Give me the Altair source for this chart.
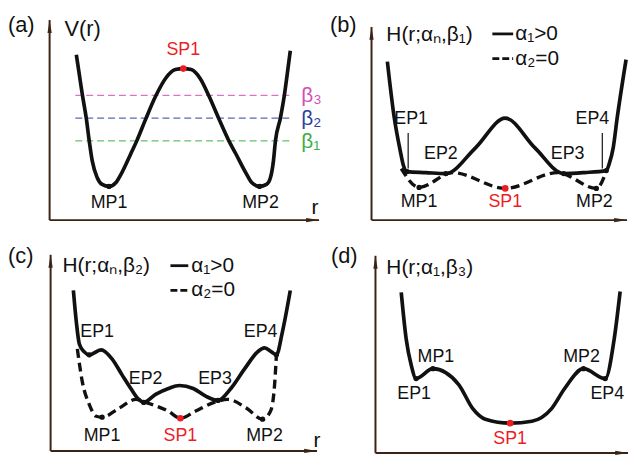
import altair as alt
import pandas as pd

# ------------------------------------------------------------------
# Schematic data (arbitrary units; axis origin of every panel at r=0, E=0)
# ------------------------------------------------------------------
# (a) double-well potential V(r)
a_r = [2.7, 3.0, 3.3, 3.7, 4.0, 4.3, 4.8, 5.3, 6.0, 6.7, 7.3, 8.2, 8.8, 9.7, 10.7, 11.7, 12.7, 13.5,
       14.3, 15.2, 16.1, 17.1, 18.1, 18.8, 19.8, 20.4, 21.2, 21.9, 22.3, 22.6, 22.8, 23.3, 23.7, 24.0, 24.3]
a_e = [16.7, 14.7, 12.7, 10.3, 8.0, 6.0, 4.3, 3.6, 3.4, 3.8, 4.8, 6.7, 8.0, 10.2, 12.5, 14.3, 15.2, 15.3,
       15.2, 14.3, 12.5, 10.2, 8.0, 6.7, 4.8, 3.8, 3.4, 3.6, 4.3, 6.0, 8.0, 10.3, 12.6, 14.8, 17.1]
beta_names = ["β₁", "β₂", "β₃"]
beta_levels = [8.0, 10.3, 12.6]
beta_colors = ["#3cb043", "#2b3f9e", "#d050b8"]
beta_span = [2.6, 24.2]
a_dot_r = [6.0, 21.2]
a_dot_e = [3.4, 3.4]
a_sp_r = [13.5]
a_sp_e = [15.3]
a_lab_text = ["MP1", "MP2"]
a_lab_r = [6.0, 21.3]
a_lab_e = [1.7, 1.7]

# (b) H(r; alpha_n, beta_1)
b_solid_r = [1.6, 2.3, 2.9, 3.2, 3.6, 5.5, 7.5, 10.5, 13.5, 16.5, 19.4, 21.5, 23.7, 24.0, 24.4, 24.8, 25.7]
b_solid_e = [16.0, 10.3, 7.0, 5.6, 4.9, 4.8, 4.7, 7.3, 10.3, 7.3, 4.7, 4.8, 5.0, 5.7, 7.3, 10.3, 16.2]
b_dash_r = [3.0, 4.8, 8.2, 13.5, 18.8, 22.7, 23.8]
b_dash_e = [5.2, 3.3, 4.8, 3.2, 4.8, 3.2, 5.2]
b_dot_r = [3.6, 7.5, 19.4, 23.7, 4.8, 22.7]
b_dot_e = [4.9, 4.7, 4.7, 5.0, 3.3, 3.2]
b_sp_r = [13.5]
b_sp_e = [3.2]
b_lab_text = ["EP1", "EP2", "EP3", "EP4", "MP1", "MP2"]
b_lab_r = [4.0, 7.0, 19.8, 22.3, 4.8, 22.5]
b_lab_e = [10.2, 6.7, 6.7, 10.2, 1.8, 1.8]
b_tick_r = [3.7, 23.3]
b_tick_e = [8.8, 8.8]
b_tick_e2 = [5.2, 5.2]

# (c) H(r; alpha_n, beta_2)
c_solid_r = [2.3, 2.6, 2.9, 3.4, 3.9, 5.1, 6.2, 7.2, 8.1, 8.9, 9.4, 10.6, 11.9, 13.0,
             14.4, 15.7, 16.9, 18.2, 19.6, 20.9, 21.6, 22.3, 22.8, 23.4, 24.2]
c_solid_e = [16.2, 13.0, 10.8, 10.0, 9.7, 10.2, 9.3, 7.7, 6.3, 5.2, 4.9, 5.7, 6.3, 6.6,
             6.3, 5.5, 5.1, 6.3, 8.3, 10.0, 10.4, 10.0, 9.7, 12.0, 16.2]
c_dash_r = [2.7, 3.2, 3.9, 4.6, 5.2, 6.9, 8.6, 9.9, 11.9, 13.1, 14.6, 16.5, 17.9, 19.8, 21.4, 22.2, 22.6, 22.8]
c_dash_e = [10.3, 7.0, 4.7, 3.5, 3.4, 4.3, 5.2, 4.8, 4.0, 3.3, 4.0, 4.9, 5.2, 4.3, 3.2, 4.0, 6.5, 9.7]
c_dot_r = [3.9, 9.4, 16.9, 22.8, 5.2, 21.4]
c_dot_e = [9.7, 4.9, 5.1, 9.7, 3.4, 3.2]
c_sp_r = [13.1]
c_sp_e = [3.3]
c_lab_text = ["EP1", "EP2", "EP3", "EP4", "MP1", "MP2"]
c_lab_r = [4.7, 9.6, 16.6, 21.2, 5.2, 21.6]
c_lab_e = [12.0, 7.3, 7.3, 12.0, 1.5, 1.5]

# (d) H(r; alpha_1, beta_3)
d_solid_r = [2.6, 3.1, 3.6, 4.1, 5.8, 8.4, 9.8, 11.1, 13.6, 15.8, 17.8, 19.1, 21.0, 23.2, 24.1, 24.7]
d_solid_e = [16.2, 11.5, 8.9, 7.5, 8.5, 6.9, 4.5, 3.4, 3.0, 3.2, 4.5, 6.5, 8.5, 7.5, 11.5, 16.3]
d_dot_r = [4.1, 5.8, 21.0, 23.2]
d_dot_e = [7.5, 8.5, 8.5, 7.5]
d_sp_r = [13.6]
d_sp_e = [3.0]
d_lab_text = ["MP1", "EP1", "MP2", "EP4"]
d_lab_r = [6.1, 3.9, 20.8, 23.4]
d_lab_e = [9.7, 5.9, 9.7, 5.9]

legend_text = ["α₁>0", "α₂=0"]

# ------------------------------------------------------------------
# Styling / layout
# ------------------------------------------------------------------
U = 10.0            # pixels per schematic unit
AX = "#3d2314"      # axis colour (dark brown)
INK = "#111111"
RED = "#ee1c24"
FONT = "Liberation Sans"
UP = "M0,-1L0.33,1L-0.33,1Z"
RIGHT = "M1,0L-1,0.33L-1,-0.33Z"
LAB = 18            # point-label font size
TIT = 21            # panel title font size
LET = 22            # panel letter font size


def df(**cols):
    return pd.DataFrame(cols)


def build_panel(x0, x1, y0, y1, ox, oy, xtip, ytip, parts):
    xs = alt.Scale(domain=[(x0 - ox) / U, (x1 - ox) / U], nice=False, zero=False)
    ys = alt.Scale(domain=[(oy - y1) / U, (oy - y0) / U], nice=False, zero=False)

    def X(f="r"):
        return alt.X(f"{f}:Q", scale=xs, axis=None)

    def Y(f="e"):
        return alt.Y(f"{f}:Q", scale=ys, axis=None)

    layers = []
    ax = df(r=[0.0], r2=[xtip], e=[0.0], e2=[ytip])
    layers.append(alt.Chart(ax).mark_rule(color=AX, strokeWidth=2).encode(x=X(), y=Y(), y2="e2:Q"))
    layers.append(alt.Chart(ax).mark_rule(color=AX, strokeWidth=2).encode(x=X(), x2="r2:Q", y=Y()))
    layers.append(alt.Chart(df(r=[0.0], e=[ytip - 0.65])).mark_point(
        shape=UP, filled=True, color=AX, opacity=1, size=169).encode(x=X(), y=Y()))
    layers.append(alt.Chart(df(r=[xtip - 0.65], e=[0.0])).mark_point(
        shape=RIGHT, filled=True, color=AX, opacity=1, size=169).encode(x=X(), y=Y()))

    for kind, data, opts in parts:
        if kind == "solid":
            layers.append(alt.Chart(data).mark_line(
                interpolate="monotone", color=INK, strokeWidth=3.7).encode(x=X(), y=Y()))
        elif kind == "dash":
            layers.append(alt.Chart(data).mark_line(
                interpolate="monotone", color=INK, strokeWidth=3.4, strokeDash=[9, 5]).encode(x=X(), y=Y()))
        elif kind == "hline":
            layers.append(alt.Chart(data).mark_rule(
                strokeWidth=1, strokeDash=[7, 4]).encode(
                x=X(), x2="r2:Q", y=Y(), color=alt.Color("c:N", scale=None)))
        elif kind == "seg":
            layers.append(alt.Chart(data).mark_rule(**opts).encode(x=X(), x2="r2:Q", y=Y()))
        elif kind == "vseg":
            layers.append(alt.Chart(data).mark_rule(color=INK, strokeWidth=1.2).encode(
                x=X(), y=Y(), y2="e2:Q"))
        elif kind == "dot":
            layers.append(alt.Chart(data).mark_circle(opacity=1, **opts).encode(x=X(), y=Y()))
        elif kind == "text":
            base = dict(font=FONT, baseline="middle")
            base.update(opts)
            enc = dict(x=X(), y=Y(), text="t:N")
            if "c" in data.columns:
                enc["color"] = alt.Color("c:N", scale=None)
            layers.append(alt.Chart(data).mark_text(**base).encode(**enc))
    return alt.layer(*layers).properties(width=x1 - x0, height=y1 - y0)


def legend_parts(r_line, r_text, e_rows):
    return [
        ("seg", df(r=[r_line[0]], r2=[r_line[1]], e=[e_rows[0]]), dict(color=INK, strokeWidth=2.8)),
        ("seg", df(r=[r_line[0]], r2=[r_line[1]], e=[e_rows[1]]),
         dict(color=INK, strokeWidth=2.8, strokeDash=[7, 3])),
        ("text", df(t=legend_text, r=[r_text, r_text], e=e_rows), dict(align="left", fontSize=TIT, color=INK)),
    ]


# ---------------- panel (a)
parts_a = [
    ("hline", df(r=[beta_span[0]] * 3, r2=[beta_span[1]] * 3, e=beta_levels, c=beta_colors), {}),
    ("solid", df(r=a_r, e=a_e), {}),
    ("dot", df(r=a_dot_r, e=a_dot_e), dict(size=28, color=INK)),
    ("dot", df(r=a_sp_r, e=a_sp_e), dict(size=45, color=RED)),
    ("text", df(t=beta_names, r=[25.4] * 3, e=[b - 0.1 for b in beta_levels], c=beta_colors),
     dict(align="left", fontSize=21)),
    ("text", df(t=a_lab_text, r=a_lab_r, e=a_lab_e), dict(align="center", fontSize=LAB, color=INK)),
    ("text", df(t=["SP1"], r=[13.5], e=[17.2]), dict(align="center", fontSize=LAB, color=RED)),
    ("text", df(t=["r"], r=[26.8], e=[1.2]), dict(align="center", fontSize=TIT, color=INK)),
    ("text", df(t=["V(r)"], r=[1.5], e=[19.3]), dict(align="left", fontSize=22, color=INK)),
    ("text", df(t=["(a)"], r=[-4.2], e=[19.7]), dict(align="left", fontSize=LET, color=INK)),
]
pa = build_panel(8, 330, 8, 232, 50, 220, 27.2, 20.2, parts_a)

# ---------------- panel (b)
parts_b = [
    ("dash", df(r=b_dash_r, e=b_dash_e), {}),
    ("solid", df(r=b_solid_r, e=b_solid_e), {}),
    ("vseg", df(r=b_tick_r, e=b_tick_e, e2=b_tick_e2), {}),
    ("dot", df(r=b_dot_r, e=b_dot_e), dict(size=28, color=INK)),
    ("dot", df(r=b_sp_r, e=b_sp_e), dict(size=45, color=RED)),
    ("text", df(t=b_lab_text, r=b_lab_r, e=b_lab_e), dict(align="center", fontSize=LAB, color=INK)),
    ("text", df(t=["SP1"], r=[13.5], e=[1.8]), dict(align="center", fontSize=LAB, color=RED)),
    ("text", df(t=["H(r;αₙ,β₁)"], r=[1.5], e=[18.7]), dict(align="left", fontSize=TIT, color=INK)),
    ("text", df(t=["(b)"], r=[-4.2], e=[19.7]), dict(align="left", fontSize=LET, color=INK)),
] + legend_parts([12.2, 14.3], 14.5, [18.8, 16.3])
pb = build_panel(330, 634, 8, 232, 375, 220, 25.8, 19.5, parts_b)

# ---------------- panel (c)
parts_c = [
    ("dash", df(r=c_dash_r, e=c_dash_e), {}),
    ("solid", df(r=c_solid_r, e=c_solid_e), {}),
    ("dot", df(r=c_dot_r, e=c_dot_e), dict(size=28, color=INK)),
    ("dot", df(r=c_sp_r, e=c_sp_e), dict(size=45, color=RED)),
    ("text", df(t=c_lab_text, r=c_lab_r, e=c_lab_e), dict(align="center", fontSize=LAB, color=INK)),
    ("text", df(t=["SP1"], r=[13.1], e=[1.5]), dict(align="center", fontSize=LAB, color=RED)),
    ("text", df(t=["r"], r=[26.9], e=[1.0]), dict(align="center", fontSize=TIT, color=INK)),
    ("text", df(t=["H(r;αₙ,β₂)"], r=[1.2], e=[18.7]), dict(align="left", fontSize=TIT, color=INK)),
    ("text", df(t=["(c)"], r=[-4.3], e=[19.7]), dict(align="left", fontSize=LET, color=INK)),
] + legend_parts([12.1, 13.9], 14.2, [18.7, 16.2])
pc = build_panel(8, 330, 239, 463, 51, 460, 26.9, 19.8, parts_c)

# ---------------- panel (d)
parts_d = [
    ("solid", df(r=d_solid_r, e=d_solid_e), {}),
    ("dot", df(r=d_dot_r, e=d_dot_e), dict(size=28, color=INK)),
    ("dot", df(r=d_sp_r, e=d_sp_e), dict(size=45, color=RED)),
    ("text", df(t=d_lab_text, r=d_lab_r, e=d_lab_e), dict(align="center", fontSize=LAB, color=INK)),
    ("text", df(t=["SP1"], r=[13.6], e=[1.4]), dict(align="center", fontSize=LAB, color=RED)),
    ("text", df(t=["H(r;α₁,β₃)"], r=[1.1], e=[18.7]), dict(align="left", fontSize=TIT, color=INK)),
    ("text", df(t=["(d)"], r=[-4.5], e=[19.9]), dict(align="left", fontSize=LET, color=INK)),
]
pd_ = build_panel(330, 634, 239, 463, 379, 462, 25.5, 19.9, parts_d)

chart = (
    alt.concat(pa, pb, pc, pd_, columns=2, spacing=0, bounds="flush")
    .resolve_scale(x="independent", y="independent")
    .properties(padding=0)
    .configure_view(strokeWidth=0)
)

chart.save("out.html", embed_options={"renderer": "svg", "actions": False})
